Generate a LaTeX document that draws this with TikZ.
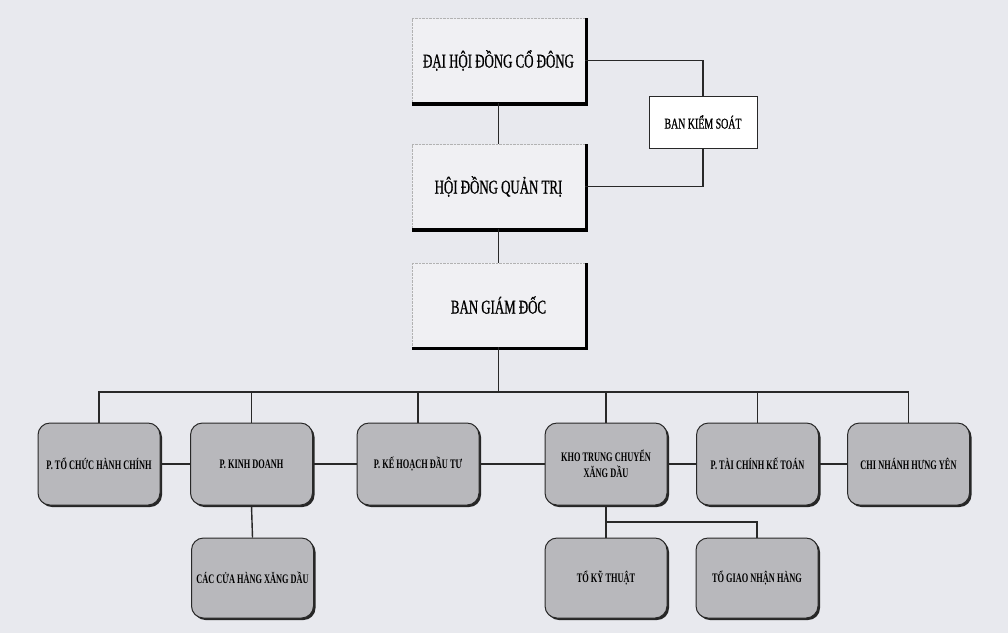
\documentclass[tikz,border=0pt]{standalone}
\usepackage{fontspec}
\setmainfont{Liberation Serif}
\newfontfamily\condfont[FakeStretch=0.64]{Liberation Serif}
\newfontfamily\condtop[FakeStretch=0.66,FakeBold=0.8]{Liberation Serif}
\usetikzlibrary{shadows}
\definecolor{bgc}{RGB}{232,233,238}
\definecolor{topfill}{RGB}{240,240,243}
\definecolor{boxfill}{RGB}{184,184,188}
\definecolor{linec}{RGB}{40,40,40}
\newcommand\shadowL[1]{\draw[line width=3.5pt,black] ([yshift=-1.2pt]#1.south west) -- ([xshift=1.2pt,yshift=-1.2pt]#1.south east) -- ([xshift=1.2pt]#1.north east);}
\begin{document}
\begin{tikzpicture}[x=1pt,y=-1pt,
  topbox/.style={draw=gray!60, densely dotted, fill=topfill, minimum width=173pt, minimum height=84pt, inner sep=0pt, font=\condtop\fontsize{19.5}{22}\selectfont},
  kbox/.style={draw=linec, line width=0.8pt, fill=white, minimum width=108pt, minimum height=52pt, inner sep=0pt, font=\condtop\fontsize{15}{17}\selectfont},
  rbox/.style={draw=linec, line width=1pt, fill=boxfill, rounded corners=12pt, minimum width=122pt, minimum height=82pt, inner sep=0pt, align=center,
    font=\condfont\bfseries\fontsize{13}{16}\selectfont,
    drop shadow={shadow xshift=2pt, shadow yshift=-2pt, fill=black!85, opacity=1}},
  conn/.style={draw=linec, line width=1.4pt}
]
\fill[bgc] (0,0) rectangle (1008,633);
\useasboundingbox (0,0) rectangle (1008,633);

% top boxes
\node[topbox] (dh) at (498.5,60.5) {ĐẠI HỘI ĐỒNG CỔ ĐÔNG};
\node[topbox] (hd) at (498.5,186.5) {HỘI ĐỒNG QUẢN TRỊ};
\node[topbox] (bgd) at (498.5,305) {BAN GIÁM ĐỐC};
\node[kbox] (bks) at (703,122) {BAN KIỂM SOÁT};
\shadowL{dh}
\shadowL{hd}
\shadowL{bgd}

% row
\node[rbox] (tc) at (99,464) {P. TỔ CHỨC HÀNH CHÍNH};
\node[rbox] (kd) at (251.5,464) {P. KINH DOANH};
\node[rbox] (kh) at (418,464) {P. KẾ HOẠCH ĐẦU TƯ};
\node[rbox] (kho) at (606,464) {KHO TRUNG CHUYỂN\\XĂNG DẦU};
\node[rbox] (tckt) at (757.5,464) {P. TÀI CHÍNH KẾ TOÁN};
\node[rbox] (cn) at (908.5,464) {CHI NHÁNH HƯNG YÊN};

\node[rbox, minimum height=80pt] (ch) at (252.5,578) {CÁC CỬA HÀNG XĂNG DẦU};
\node[rbox, minimum height=80pt] (tkt) at (606,578) {TỔ KỸ THUẬT};
\node[rbox, minimum height=80pt] (tgn) at (757,578) {TỔ GIAO NHẬN HÀNG};

\coordinate (bus) at (498.5,392);
\coordinate (br) at (606,522);

% connectors
\draw[conn] (dh) -- (hd);
\draw[conn] (hd) -- (bgd);
\draw[conn] (dh.east) -- (dh.east -| bks.north) -- (bks.north);
\draw[conn] (hd.east) -- (hd.east -| bks.south) -- (bks.south);
\draw[conn] (bgd.south) -- (bus);
\draw[conn] (tc.north) -- (tc.north |- bus) -- (cn.north |- bus) -- (cn.north);
\foreach \n in {kd,kh,kho,tckt} \draw[conn] (\n.north) -- (\n.north |- bus);
\draw[conn] (tc.east) -- (kd.west);
\draw[conn] (kd.east) -- (kh.west);
\draw[conn] (kh.east) -- (kho.west);
\draw[conn] (kho.east) -- (tckt.west);
\draw[conn] (tckt.east) -- (cn.west);
\draw[conn] (kd.south) -- (ch.north);
\draw[conn] (kho.south) -- (tkt.north);
\draw[conn] (br) -- (br -| tgn.north) -- (tgn.north);
\end{tikzpicture}
\end{document}
